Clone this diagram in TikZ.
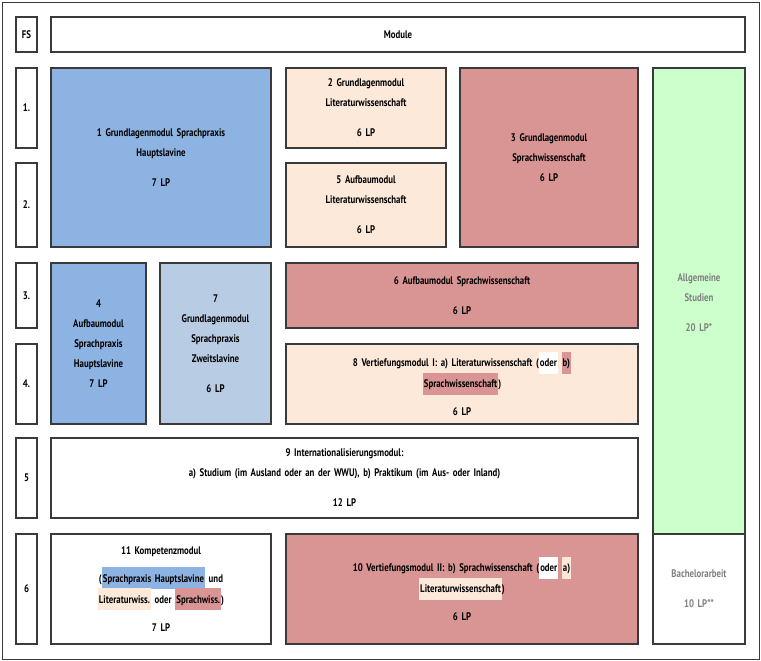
\documentclass[tikz,border=0pt]{standalone}
\usepackage{fontspec}
\setmainfont{PT Sans}[FakeStretch=0.8]
\usetikzlibrary{positioning}
\definecolor{spblue}{HTML}{8DB3E2}
\definecolor{spblue2}{HTML}{B8CCE4}
\definecolor{litpeach}{HTML}{FCE9DA}
\definecolor{sprred}{HTML}{D99594}
\definecolor{agreen}{HTML}{CCFFCC}
\definecolor{framegray}{HTML}{3A3A3A}
\newcommand{\hl}[2]{{\setlength{\fboxsep}{1pt}\colorbox{#1}{\strut #2}}}
\begin{document}
\begin{tikzpicture}[x=1pt, y=-1pt, font=\bfseries\fontsize{11}{20}\selectfont,
    box/.style 2 args={draw=framegray, line width=1.3pt, rectangle, inner sep=2pt,
        minimum width=#1pt, minimum height=#2pt, align=center, text width=#1pt-6pt},
    sem/.style={box={19}{#1}, text width=17pt}
  ]
  \useasboundingbox (0,0) rectangle (761,661);
  \draw[framegray, line width=0.8pt] (2,2) rectangle (759,659);

  % Kopfzeile
  \node[box={19}{35}, text width=17pt] (fs) at (26.5,34.5) {FS};
  \node[box={694}{35}] (module) at (398,34.5) {Module};

  % Fachsemester
  \node[sem=80]  (s1) at (26.5,108)   {1.};
  \node[sem=84]  (s2) at (26.5,205)   {2.};
  \node[sem=65]  (s3) at (26.5,295.5) {3.};
  \node[sem=80]  (s4) at (26.5,384)   {4.};
  \node[sem=80]  (s5) at (26.5,478)   {5};
  \node[sem=110] (s6) at (26.5,589)   {6};

  % Module
  \node[box={220}{179}, fill=spblue] (m1) at (161,157.5)
    {1 Grundlagenmodul Sprachpraxis\\Hauptslavine\\[10pt]7 LP};
  \node[box={160}{80}, fill=litpeach] (m2) at (366,108)
    {2 Grundlagenmodul\\Literaturwissenschaft\\[10pt]6 LP};
  \node[box={160}{84}, fill=litpeach] (m5) at (366,205)
    {5 Aufbaumodul\\Literaturwissenschaft\\[10pt]6 LP};
  \node[box={178}{179}, fill=sprred] (m3) at (549,157.5)
    {3 Grundlagenmodul\\Sprachwissenschaft\\6 LP};
  \node[box={92}{469}, fill=agreen, text=gray] (as) at (699,302.5)
    {Allgemeine\\Studien\\[10pt]20 LP*};
  \node[box={95}{161}, fill=spblue] (m4) at (98.5,343.5)
    {4\\Aufbaumodul\\Sprachpraxis\\Hauptslavine\\7 LP};
  \node[box={111}{161}, fill=spblue2] (m7) at (215.5,343.5)
    {7\\Grundlagenmodul\\Sprachpraxis\\Zweitslavine\\[10pt]6 LP};
  \node[box={352}{65}, fill=sprred] (m6) at (462,295.5)
    {6 Aufbaumodul Sprachwissenschaft\\[10pt]6 LP};
  \node[box={352}{80}, fill=litpeach] (m8) at (462,384)
    {8 Vertiefungsmodul I: a) Literaturwissenschaft (\hl{white}{oder} \hl{sprred}{b)}\\[-2pt]
     \hl{sprred}{Sprachwissenschaft})\\[8pt]6 LP};
  \node[box={587}{80}, fill=white] (m9) at (344.5,478)
    {9 Internationalisierungsmodul:\\a) Studium (im Ausland oder an der WWU), b) Praktikum (im Aus- oder Inland)\\[10pt]12 LP};
  \node[box={220}{110}, fill=white] (m11) at (161,589)
    {11 Kompetenzmodul\\[8pt](\hl{spblue}{Sprachpraxis Hauptslavine} und\\[-2pt]
     \hl{litpeach}{Literaturwiss.} oder \hl{sprred}{Sprachwiss.})\\[8pt]7 LP};
  \node[box={352}{110}, fill=sprred] (m10) at (462,589)
    {10 Vertiefungsmodul II: b) Sprachwissenschaft (\hl{white}{oder} \hl{litpeach}{a)}\\[-2pt]
     \hl{litpeach}{Literaturwissenschaft})\\[8pt]6 LP};
  \node[box={92}{110}, fill=white, text=gray] (ba) at (699,589)
    {Bachelorarbeit\\[10pt]10 LP**};
\end{tikzpicture}
\end{document}
